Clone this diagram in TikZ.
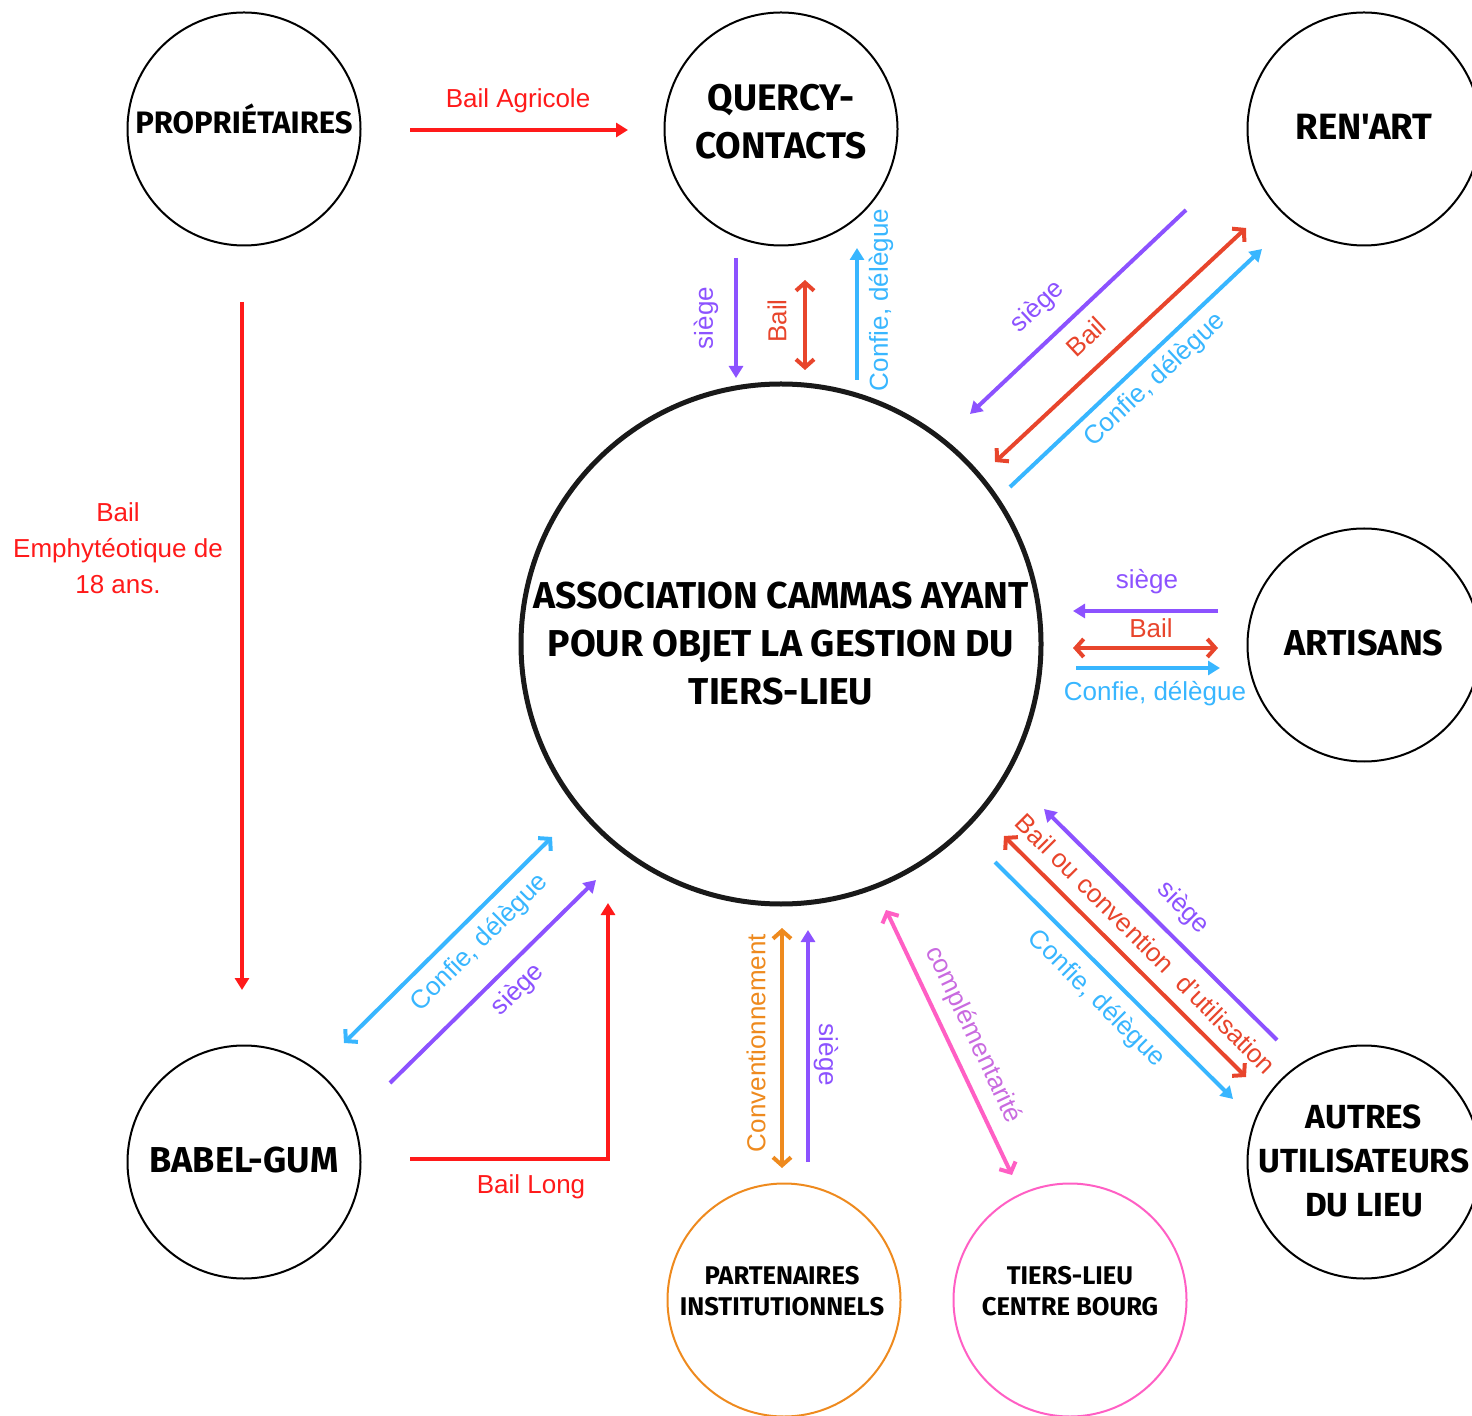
\documentclass[tikz,border=0pt]{standalone}
\usepackage{fontspec}
\setmainfont{Liberation Sans}
\newfontfamily\headfont{Fira Sans}
\usetikzlibrary{arrows.meta}
\definecolor{cpurple}{HTML}{8C52FF}
\definecolor{cred}{HTML}{E8452C}
\definecolor{cbright}{HTML}{FF1A1A}
\definecolor{cblue}{HTML}{38B6FF}
\definecolor{corange}{HTML}{EE8A1E}
\definecolor{cpink}{HTML}{FF5FC4}
\definecolor{ccompl}{HTML}{C96BE0}
\tikzset{
  circ/.style={circle, draw=black, line width=1pt, minimum size=116.5pt, inner sep=0pt},
  headtext/.style={inner sep=0pt, align=center, font=\headfont\bfseries\fontsize{18}{24}\selectfont},
  bigcirc/.style={circle, draw=black!90, line width=2.5pt, minimum size=260pt, inner sep=0pt, align=center,
    font=\headfont\bfseries\fontsize{18.7}{24}\selectfont},
  smallcirc/.style={circle, line width=1pt, minimum size=116.5pt, inner sep=0pt},
  smalltext/.style={inner sep=0pt, align=center, font=\headfont\bfseries\fontsize{12.8}{15.5}\selectfont},
  lab/.style={font=\fontsize{13}{18}\selectfont, inner sep=0pt, align=center},
  conn/.style={line width=2pt},
  tri/.style={-{Triangle[length=6pt,width=7pt]}},
  dbl/.style={{Straight Barb[length=4pt,width=9pt]}-{Straight Barb[length=4pt,width=9pt]}},
}
\begin{document}
\begin{tikzpicture}[x=0.5pt,y=-0.5pt]
\useasboundingbox (0,0) rectangle (1472,1416);
% circles
\node[circ] (prop) at (244,129) {};
\node[headtext, font=\headfont\bfseries\fontsize{15.5}{24}\selectfont] (propt) at (244,119) {PROPRIÉTAIRES};
\node[circ] (quercy) at (781,129) {};
\node[headtext, font=\headfont\bfseries\fontsize{18.5}{24}\selectfont] (quercyt) at (781,122) {QUERCY-\\CONTACTS};
\node[circ] (renart) at (1364,129) {};
\node[headtext, font=\headfont\bfseries\fontsize{18.3}{24}\selectfont] (renartt) at (1364,127) {REN'ART};
\node[bigcirc] (assoc) at (781,644) {ASSOCIATION CAMMAS AYANT\\POUR OBJET LA GESTION DU\\TIERS-LIEU};
\node[circ] (artisans) at (1364,645) {};
\node[headtext] (artisanst) at (1364,643) {ARTISANS};
\node[circ] (babel) at (244,1162) {};
\node[headtext] (babelt) at (244,1160) {BABEL-GUM};
\node[circ] (autres) at (1364,1162) {};
\node[headtext, font=\headfont\bfseries\fontsize{16.7}{22}\selectfont] (autrest) at (1364,1161) {AUTRES\\UTILISATEURS\\DU LIEU};
\node[smallcirc, draw=corange] (part) at (784,1300) {};
\node[smalltext] (partt) at (782,1291) {PARTENAIRES\\INSTITUTIONNELS};
\node[smallcirc, draw=cpink] (tlcb) at (1070,1300) {};
\node[smalltext] (tlcbt) at (1070,1291) {TIERS-LIEU\\CENTRE BOURG};

% coordinates
\coordinate (pa1) at (410,130); \coordinate (pa2) at (628,130);
\coordinate (pe1) at (242,302); \coordinate (pe2) at (242,990);
\coordinate (bl1) at (410,1159); \coordinate (bl2) at (608,1159); \coordinate (bl3) at (608,903);
\coordinate (qs1) at (736,258); \coordinate (qs2) at (736,378);
\coordinate (qb1) at (805,280); \coordinate (qb2) at (805,370);
\coordinate (qc1) at (857,380); \coordinate (qc2) at (857,248);
\coordinate (rs1) at (1186,210); \coordinate (rs2) at (970,414);
\coordinate (rb1) at (995,462); \coordinate (rb2) at (1246,228);
\coordinate (rc1) at (1010,487); \coordinate (rc2) at (1262,249);
\coordinate (as1) at (1218,611); \coordinate (as2) at (1073,611);
\coordinate (ab1) at (1073,648); \coordinate (ab2) at (1218,648);
\coordinate (ac1) at (1076,668); \coordinate (ac2) at (1220,668);
\coordinate (us1) at (1277,1040); \coordinate (us2) at (1044,809);
\coordinate (ub1) at (1004,836); \coordinate (ub2) at (1246,1077);
\coordinate (uc1) at (995,862); \coordinate (uc2) at (1233,1099);
\coordinate (bc1) at (344,1043); \coordinate (bc2) at (552,837);
\coordinate (bs1) at (390,1083); \coordinate (bs2) at (596,880);
\coordinate (po1) at (782,928); \coordinate (po2) at (782,1168);
\coordinate (ps1) at (808,1162); \coordinate (ps2) at (808,930);
\coordinate (pk1) at (886,910); \coordinate (pk2) at (1012,1175);

% connectors
\draw[conn, cbright, tri] (pa1) -- (pa2);
\draw[conn, cbright, tri] (pe1) -- (pe2);
\draw[conn, cbright, tri] (bl1) -- (bl2) -- (bl3);
\draw[conn, cpurple, tri] (qs1) -- (qs2);
\draw[conn, cred, dbl] (qb1) -- (qb2);
\draw[conn, cblue, tri] (qc1) -- (qc2);
\draw[conn, cpurple, tri] (rs1) -- (rs2);
\draw[conn, cred, dbl] (rb1) -- (rb2);
\draw[conn, cblue, tri] (rc1) -- (rc2);
\draw[conn, cpurple, tri] (as1) -- (as2);
\draw[conn, cred, dbl] (ab1) -- (ab2);
\draw[conn, cblue, tri] (ac1) -- (ac2);
\draw[conn, cpurple, tri] (us1) -- (us2);
\draw[conn, cred, dbl] (ub1) -- (ub2);
\draw[conn, cblue, tri] (uc1) -- (uc2);
\draw[conn, cblue, dbl] (bc1) -- (bc2);
\draw[conn, cpurple, tri] (bs1) -- (bs2);
\draw[conn, corange, dbl] (po1) -- (po2);
\draw[conn, cpurple, tri] (ps1) -- (ps2);
\draw[conn, cpink, dbl] (pk1) -- (pk2);

% labels
\node[lab, cbright] (lpa) at (518,101) {Bail Agricole};
\node[lab, cbright] (lpe) at (118,548) {Bail\\Emphytéotique de\\18 ans.};
\node[lab, cbright] (lbl) at (531,1187) {Bail Long};
\node[lab, cpurple, rotate=90] (lqs) at (706,318) {siège};
\node[lab, cred, rotate=90] (lqb) at (777,321) {Bail};
\node[lab, cblue, rotate=90] (lqc) at (881,300) {Confie, délègue};
\node[lab, cpurple, rotate=43] (lrs) at (1038,307) {siège};
\node[lab, cred, rotate=43] (lrb) at (1086,337) {Bail};
\node[lab, cblue, rotate=43] (lrc) at (1155,380) {Confie, délègue};
\node[lab, cpurple] (las) at (1147,582) {siège};
\node[lab, cred] (lab) at (1151,628) {Bail};
\node[lab, cblue] (lac) at (1155,694) {Confie, délègue};
\node[lab, cpurple, rotate=-45] (lus) at (1183,908) {siège};
\node[lab, cred, rotate=-45] (lub) at (1146,944) {Bail ou convention\ \ d'utilisation};
\node[lab, cblue, rotate=-45] (luc) at (1096,999) {Confie, délègue};
\node[lab, cblue, rotate=45] (lbc) at (480,943) {Confie, délègue};
\node[lab, cpurple, rotate=45] (lbs) at (518,990) {siège};
\node[lab, corange, rotate=90] (lpo) at (756,1043) {Conventionnement};
\node[lab, cpurple, rotate=-90] (lps) at (826,1055) {siège};
\node[lab, ccompl, rotate=-64.6] (lpk) at (973,1035) {complémentarité};
\end{tikzpicture}
\end{document}
